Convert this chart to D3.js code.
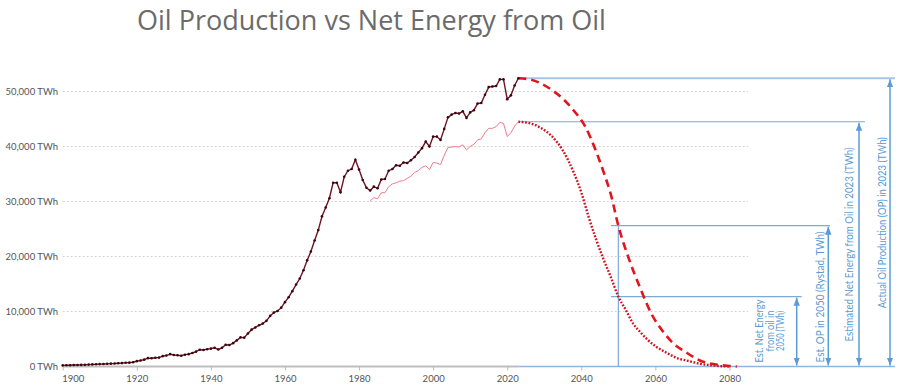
<!DOCTYPE html>
<html>
<head>
<meta charset="utf-8">
<script src="https://cdn.jsdelivr.net/npm/d3@7"></script>
<style>
  body { margin: 0; background: #fff; }
  svg { display: block; }
  .grid line { stroke: #d4d4d4; stroke-dasharray: 2,2; }
  .tick-label { font-family: Lato, sans-serif; font-size: 9.5px; fill: #555; }
  .note { font-family: Lato, sans-serif; font-size: 11.5px; fill: #5b9bd5; }
</style>
</head>
<body>
<script>
// historical oil production, TWh (1900-2023)
var histStart = 1900;
var oilProduction = [
  200, 220, 240, 260, 280, 290, 300, 350, 380, 400,
  440, 460, 480, 520, 540, 590, 620, 680, 700, 780,
  970, 1100, 1250, 1520, 1500, 1580, 1620, 1880, 1990, 2250,
  2100, 2050, 1950, 2150, 2250, 2450, 2700, 3050, 3000, 3150,
  3250, 3400, 3100, 3400, 3950, 3900, 4250, 4750, 5300, 5250,
  6000, 6700, 7100, 7500, 7800, 8300, 9200, 9800, 10100, 10700,
  11700, 12600, 13700, 14900, 16000, 17500, 19300, 20900, 22900, 24800,
  27300, 28900, 30600, 33400, 33400, 31700, 34500, 35600, 35900, 37600,
  35800, 33900, 32500, 32000, 32700, 32400, 34000, 34100, 35600, 35900,
  36600, 36500, 37100, 37000, 37500, 38100, 38900, 39700, 40900, 40000,
  41800, 41800, 41200, 43200, 45300, 45800, 46100, 46000, 46400, 45200,
  46200, 46600, 47800, 47900, 49400, 50800, 50900, 51000, 52200, 52200,
  48600, 49300, 51100, 52400
];

// estimated net energy from oil, TWh (1983-2023)
var netStart = 1983;
var netEnergy = [
  30100, 30700, 30500, 31600, 31600, 32700, 33200, 33400, 33700, 33800,
  34200, 34600, 35300, 35600, 36200, 36500, 35800, 37100, 37000, 36700,
  38400, 39800, 39900, 40000, 39900, 40300, 39400, 40000, 40400, 41200,
  41400, 42500, 43300, 43300, 43600, 44400, 44200, 41800, 42500, 43700,
  44500
];

// projected oil production (dashed) and net energy (dotted)
var projYears = [2023, 2026, 2029, 2032, 2035, 2038, 2041, 2044, 2046, 2048, 2050, 2053, 2056, 2059, 2062, 2065, 2068, 2072, 2076, 2080, 2082];
var projOil = [52400, 52200, 51500, 50300, 48700, 46500, 43700, 39100, 35400, 31200, 25600, 19300, 14100, 9500, 6400, 4100, 2700, 1100, 400, 100, 0];
var projNetYears = [2023, 2026, 2029, 2032, 2035, 2038, 2040, 2042, 2044, 2046, 2048, 2050, 2052, 2054, 2056, 2058, 2060, 2063, 2066, 2069, 2072, 2076, 2080];
var projNet = [44500, 44250, 43400, 41900, 39300, 35200, 31650, 27150, 23100, 19500, 16200, 12700, 10300, 7800, 6200, 4800, 3700, 2500, 1500, 1000, 500, 150, 0];

var yTicks = [0, 10000, 20000, 30000, 40000, 50000];
var xTicks = [1900, 1920, 1940, 1960, 1980, 2000, 2020, 2040, 2060, 2080];

var width = 906, height = 392;
var blue = "#5b9bd5";

var svg = d3.select("body").append("svg")
  .attr("width", width)
  .attr("height", height);

var defs = svg.append("defs");
defs.append("marker")
  .attr("id", "arr")
  .attr("viewBox", "0 0 10 10")
  .attr("refX", 10).attr("refY", 5)
  .attr("markerWidth", 8).attr("markerHeight", 8)
  .attr("markerUnits", "userSpaceOnUse")
  .attr("orient", "auto-start-reverse")
  .append("path")
  .attr("d", "M0,1L10,5L0,9Z")
  .attr("fill", blue);

var x = d3.scaleLinear().domain([1900, 2085]).range([62.7, 748]);
var y = d3.scaleLinear().domain([0, 50000]).range([366.5, 91.5]);

// title
svg.append("text")
  .attr("x", 137).attr("y", 30)
  .attr("font-family", "'Open Sans', sans-serif")
  .attr("font-size", 27)
  .attr("fill", "#6b6b6b")
  .text("Oil Production vs Net Energy from Oil");

// gridlines
svg.append("g").attr("class", "grid")
  .selectAll("line")
  .data(yTicks.filter(function(d){ return d > 0; }))
  .enter().append("line")
  .attr("x1", x(1900)).attr("x2", x(2085))
  .attr("y1", function(d){ return y(d); })
  .attr("y2", function(d){ return y(d); });

// y labels
svg.append("g").selectAll("text")
  .data(yTicks)
  .enter().append("text")
  .attr("class", "tick-label")
  .attr("x", 58)
  .attr("y", function(d){ return y(d); })
  .attr("dy", "0.35em")
  .attr("text-anchor", "end")
  .text(function(d){ return d3.format(",")(d) + " TWh"; });

// x axis
var xAxis = d3.axisBottom(x)
  .tickValues(xTicks)
  .tickFormat(d3.format("d"))
  .tickSize(4)
  .tickPadding(5);
var gx = svg.append("g")
  .attr("transform", "translate(0," + y(0) + ")")
  .call(xAxis);
gx.select(".domain").remove();
gx.selectAll(".tick line").attr("stroke", "#bbb");
gx.selectAll(".tick text").attr("class", "tick-label").attr("font-size", null).attr("font-family", null);
gx.selectAll(".tick text").filter(function(d){ return d === 1900; })
  .attr("text-anchor", "start").attr("dx", -1);
svg.append("line")
  .attr("x1", x(1900)).attr("x2", x(2023))
  .attr("y1", y(0)).attr("y2", y(0))
  .attr("stroke", "#bdbdbd").attr("stroke-width", 2);

// annotation lines
var annX = { top: 895, net23: 865, op50: 830, net50: 801.7 };
svg.append("line")
  .attr("x1", x(2023)).attr("x2", 895)
  .attr("y1", y(0)).attr("y2", y(0))
  .attr("stroke", "#8fb4dd").attr("stroke-width", 1.5);
svg.append("line")
  .attr("x1", x(2023)).attr("x2", annX.top)
  .attr("y1", y(oilProduction[oilProduction.length - 1]))
  .attr("y2", y(oilProduction[oilProduction.length - 1]))
  .attr("stroke", "#a7c5e6").attr("stroke-width", 2);
svg.append("line")
  .attr("x1", x(2023)).attr("x2", annX.net23)
  .attr("y1", y(netEnergy[netEnergy.length - 1]))
  .attr("y2", y(netEnergy[netEnergy.length - 1]))
  .attr("stroke", "#7aaad9").attr("stroke-width", 1.2);
var op2050 = projOil[projYears.indexOf(2050)];
var net2050 = projNet[projNetYears.indexOf(2050)];
svg.append("line")
  .attr("x1", x(2048)).attr("x2", annX.op50)
  .attr("y1", y(op2050)).attr("y2", y(op2050))
  .attr("stroke", "#7aaad9").attr("stroke-width", 1.2);
svg.append("line")
  .attr("x1", x(2048)).attr("x2", annX.net50)
  .attr("y1", y(net2050)).attr("y2", y(net2050))
  .attr("stroke", "#7aaad9").attr("stroke-width", 1.2);
svg.append("line")
  .attr("x1", x(2050)).attr("x2", x(2050))
  .attr("y1", y(op2050)).attr("y2", y(0))
  .attr("stroke", "#7aaad9").attr("stroke-width", 1.2);

// arrows
var arrows = [
  { x: 796.7, v: net2050 },
  { x: 828.3, v: op2050 },
  { x: 859, v: netEnergy[netEnergy.length - 1] },
  { x: 890, v: oilProduction[oilProduction.length - 1] }
];
svg.append("g").selectAll("line")
  .data(arrows)
  .enter().append("line")
  .attr("x1", function(d){ return d.x; }).attr("x2", function(d){ return d.x; })
  .attr("y1", function(d){ return y(d.v) + 1; })
  .attr("y2", y(0) - 1)
  .attr("stroke", blue).attr("stroke-width", 1.5)
  .attr("marker-start", "url(#arr)")
  .attr("marker-end", "url(#arr)");

// annotation texts (rotated, squeezed to the narrow font of the original)
function vText(cx, cy, lines, lens) {
  var t = svg.append("text")
    .attr("class", "note")
    .attr("text-anchor", "middle")
    .attr("transform", "translate(" + cx + "," + cy + ") rotate(-90)");
  lines.forEach(function(s, i){
    t.append("tspan")
      .attr("x", 0)
      .attr("y", (i - (lines.length - 1) / 2) * 10.5)
      .attr("dy", "0.35em")
      .attr("textLength", lens[i])
      .attr("lengthAdjust", "spacingAndGlyphs")
      .text(s);
  });
}
vText(769.5, 331, ["Est. Net Energy", "from oil in", "2050 (TWh)"], [63, 41, 40]);
vText(819.5, 297, ["Est. OP in 2050 (Rystad, TWh)"], [131]);
vText(848.5, 244.5, ["Estimated Net Energy from Oil in 2023 (TWh)"], [194]);
vText(881.5, 222.7, ["Actual Oil Production (OP) in 2023 (TWh)"], [171]);

// series
var line = d3.line()
  .x(function(d){ return x(d[0]); })
  .y(function(d){ return y(d[1]); });
var smooth = d3.line()
  .curve(d3.curveMonotoneX)
  .x(function(d){ return x(d[0]); })
  .y(function(d){ return y(d[1]); });

var histData = oilProduction.map(function(v, i){ return [histStart + i, v]; });
var netData = netEnergy.map(function(v, i){ return [netStart + i, v]; });
var projData = projYears.map(function(yr, i){ return [yr, projOil[i]]; });
var projNetData = projNetYears.map(function(yr, i){ return [yr, projNet[i]]; });

svg.append("path")
  .datum(projNetData)
  .attr("d", smooth)
  .attr("fill", "none")
  .attr("stroke", "#d0141e")
  .attr("stroke-width", 2.4)
  .attr("stroke-dasharray", "1.8,1.6");

svg.append("path")
  .datum(projData)
  .attr("d", smooth)
  .attr("fill", "none")
  .attr("stroke", "#e0161e")
  .attr("stroke-width", 2.6)
  .attr("stroke-dasharray", "8,5");

svg.append("path")
  .datum(netData)
  .attr("d", line)
  .attr("fill", "none")
  .attr("stroke", "#f07c8c")
  .attr("stroke-width", 1);

svg.append("path")
  .datum(histData)
  .attr("d", line)
  .attr("fill", "none")
  .attr("stroke", "#6e1424")
  .attr("stroke-width", 1.4);

svg.append("g").selectAll("circle")
  .data(histData)
  .enter().append("circle")
  .attr("cx", function(d){ return x(d[0]); })
  .attr("cy", function(d){ return y(d[1]); })
  .attr("r", 1.3)
  .attr("fill", "#3a0810");
</script>
</body>
</html>
